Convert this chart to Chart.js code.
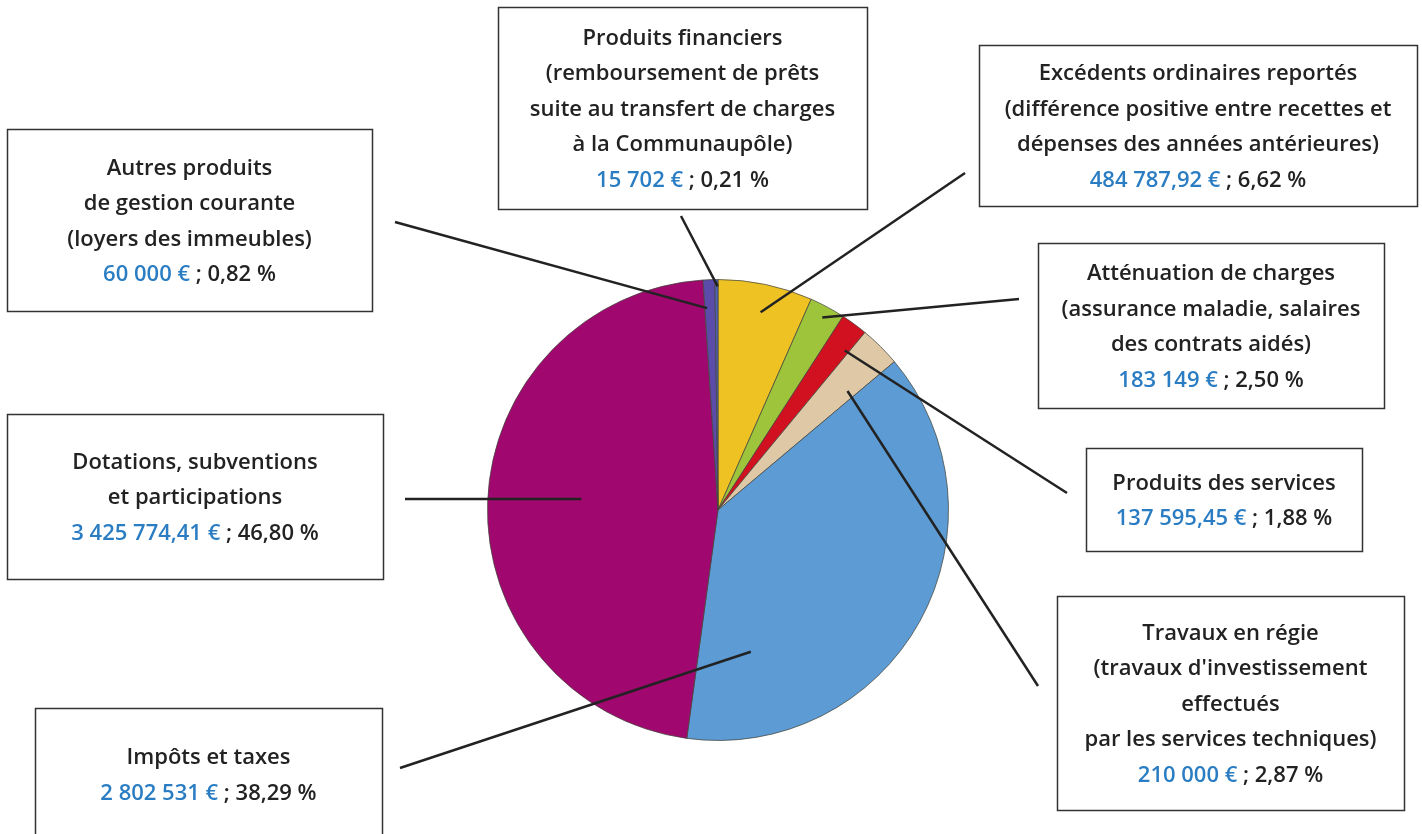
<!DOCTYPE html>
<html lang="fr">
<head>
<meta charset="utf-8">
<title>Recettes de fonctionnement</title>
<script src="https://cdn.jsdelivr.net/npm/chart.js@4.4.1/dist/chart.umd.min.js"></script>
<style>
  html, body { margin: 0; padding: 0; background: #fff; }
  #wrap { width: 1422px; height: 834px; position: relative; }
</style>
</head>
<body>
<div id="wrap"><canvas id="pie" width="1422" height="834"></canvas></div>
<script>
// slices, clockwise from 12 o'clock
const categories = [
    "Excédents ordinaires reportés",
    "Atténuation de charges",
    "Produits des services",
    "Travaux en régie",
    "Impôts et taxes",
    "Dotations, subventions et participations",
    "Autres produits de gestion courante",
    "Produits financiers",
];
const amounts = [484787.92, 183149, 137595.45, 210000, 2802531, 3425774.41, 60000, 15702];
const percents = [6.62, 2.50, 1.88, 2.87, 38.29, 46.80, 0.82, 0.21];
const boxLines = [
    ["Excédents ordinaires reportés", "(différence positive entre recettes et", "dépenses des années antérieures)"],
    ["Atténuation de charges", "(assurance maladie, salaires", "des contrats aidés)"],
    ["Produits des services"],
    ["Travaux en régie", "(travaux d'investissement", "effectués", "par les services techniques)"],
    ["Impôts et taxes"],
    ["Dotations, subventions", "et participations"],
    ["Autres produits", "de gestion courante", "(loyers des immeubles)"],
    ["Produits financiers", "(remboursement de prêts", "suite au transfert de charges", "à la Communaupôle)"],
];
const colors = ["#EEC222", "#9DC43B", "#D1111F", "#DEC8A6", "#5C9BD4", "#A0086F", "#5C4CA9", "#4E62B8"];

// label boxes [x, y, w, h], leader line start, and where it lands in the slice
const boxes = [
    [979, 45, 438, 161],
    [1038, 243, 346, 165],
    [1086, 448, 276, 103],
    [1057, 596, 347, 214],
    [35, 708, 347, 132],
    [7, 414, 376, 165],
    [7, 129, 365, 182],
    [498, 7, 369, 202],
];
const lineFrom = [[965, 173], [1019, 299], [1067, 493], [1038, 686], [400, 768], [405, 499], [395, 222], [681, 216]];
const anchorFrac = [0.51, 0.51, 0.83, 0.755, 0.849, 0.515, 0.21, 0.9];
const anchorRad = [0.878, 0.95, 0.884, 0.763, 0.631, 0.595, 0.877, 0.97];

const FONT = "600 22px 'Open Sans'";
const LINE_H = 35.5;

function formatEuro(v) {
    const neg = v < 0;
    v = Math.abs(v);
    const intPart = Math.floor(v + 1e-9);
    const dec = Math.round((v - intPart) * 100);
    let s = String(intPart).replace(/\B(?=(\d{3})+(?!\d))/g, " ");
    if (dec > 0) s += "," + String(dec).padStart(2, "0");
    return (neg ? "-" : "") + s + " €";
}

function formatPct(p) {
    return p.toFixed(2).replace(".", ",") + " %";
}

const calloutPlugin = {
    id: "callouts",
    afterDraw(chart) {
        const ctx = chart.ctx;
        const arcs = chart.getDatasetMeta(0).data;
        ctx.save();

        // leader lines
        ctx.strokeStyle = "#222";
        ctx.lineWidth = 2.5;
        ctx.lineCap = "butt";
        arcs.forEach((arc, i) => {
            const a = arc.startAngle + anchorFrac[i] * (arc.endAngle - arc.startAngle);
            const r = anchorRad[i] * arc.outerRadius;
            ctx.beginPath();
            ctx.moveTo(lineFrom[i][0], lineFrom[i][1]);
            ctx.lineTo(arc.x + Math.cos(a) * r, arc.y + Math.sin(a) * r);
            ctx.stroke();
        });

        // boxes and texts
        ctx.font = FONT;
        ctx.textBaseline = "middle";
        boxes.forEach((b, i) => {
            const [x, y, w, h] = b;
            ctx.fillStyle = "#fff";
            ctx.fillRect(x, y, w, h);
            ctx.strokeStyle = "#333";
            ctx.lineWidth = 1.5;
            ctx.strokeRect(x + 0.5, y + 0.5, w, h);

            const lines = boxLines[i];
            const n = lines.length + 1;
            const cx = x + w / 2;
            let ty = y + h / 2 + 1.5 - (n - 1) * LINE_H / 2;
            ctx.textAlign = "center";
            ctx.fillStyle = "#222";
            lines.forEach(t => {
                ctx.fillText(t, cx, ty);
                ty += LINE_H;
            });
            const blue = formatEuro(amounts[i]);
            const rest = " ; " + formatPct(percents[i]);
            const wb = ctx.measureText(blue).width;
            const wr = ctx.measureText(rest).width;
            let sx = cx - (wb + wr) / 2;
            ctx.textAlign = "left";
            ctx.fillStyle = "#2A7DC2";
            ctx.fillText(blue, sx, ty);
            ctx.fillStyle = "#222";
            ctx.fillText(rest, sx + wb, ty);
        });
        ctx.restore();
    },
};

const ctx = document.getElementById("pie").getContext("2d");
const chart = new Chart(ctx, {
    type: "pie",
    data: {
        labels: categories,
        datasets: [
            {
                data: amounts,
                backgroundColor: colors,
                borderColor: "rgba(70,70,60,0.75)",
                borderWidth: 1,
            },
        ],
    },
    options: {
        responsive: false,
        animation: false,
        layout: {
            padding: {left: 487, right: 473, top: 279, bottom: 93},
        },
        plugins: {
            legend: {display: false},
            tooltip: {enabled: false},
        },
    },
    plugins: [calloutPlugin],
});
</script>
</body>
</html>
